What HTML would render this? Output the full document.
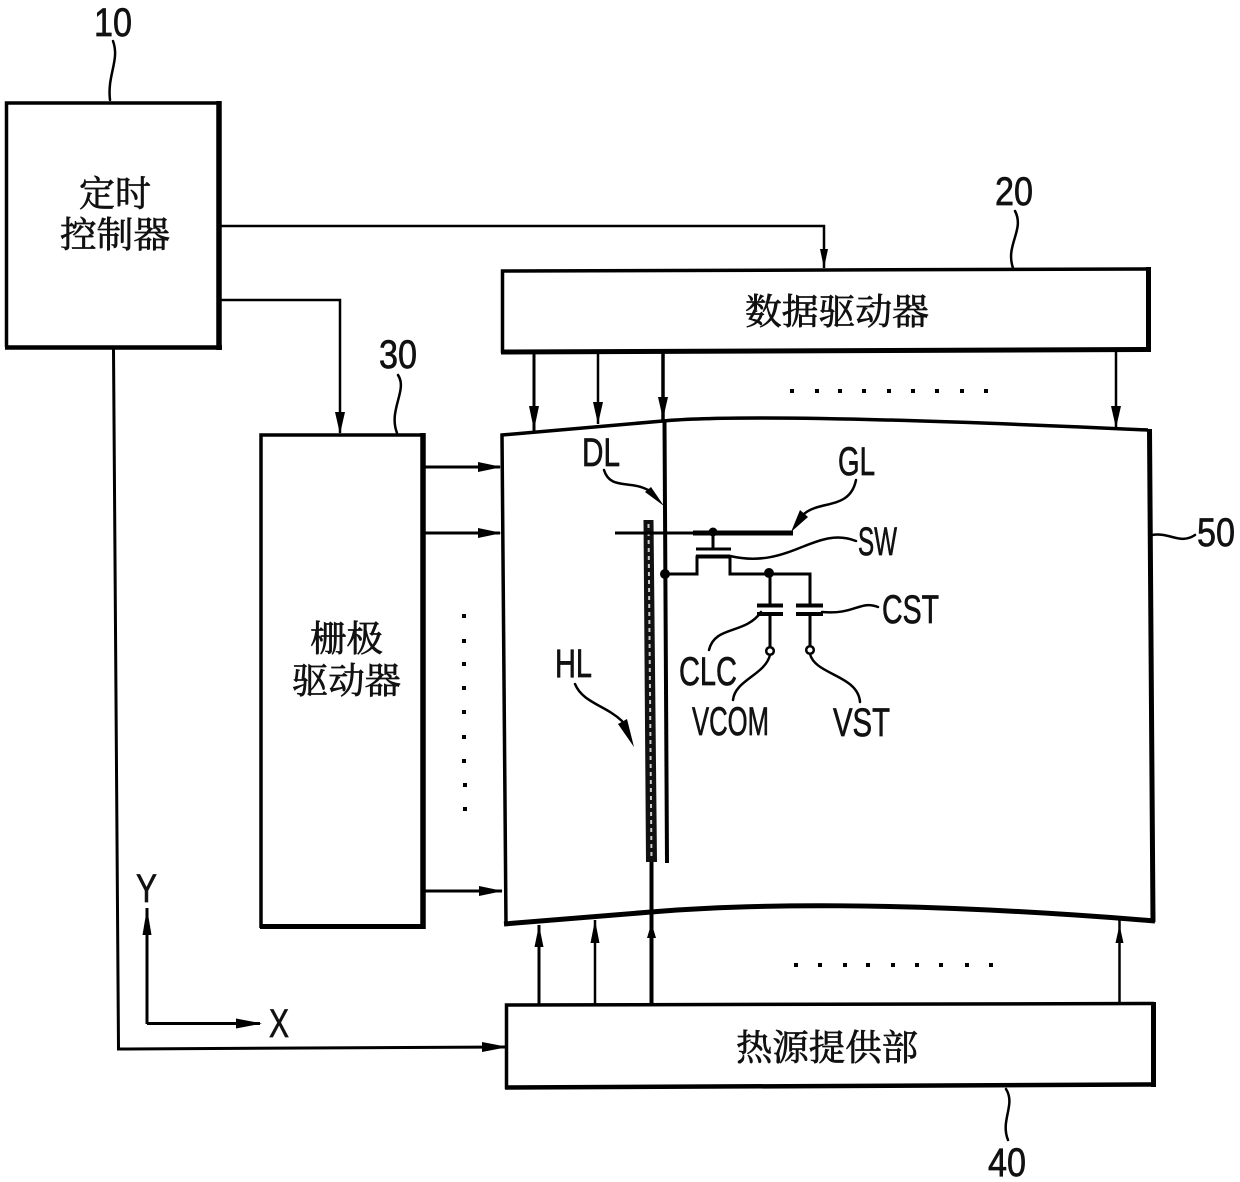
<!DOCTYPE html>
<html><head><meta charset="utf-8"><style>
html,body{margin:0;padding:0;background:#fff;width:1240px;height:1182px;overflow:hidden}
svg{display:block}
.l{font-family:"Liberation Sans",sans-serif;font-size:40px;fill:#111;stroke:#111;stroke-width:.7}
.c{font-family:"Noto Serif CJK SC","Noto Sans CJK SC",serif;font-size:36px;fill:#111;stroke:#111;stroke-width:.7}
.w{fill:none;stroke:#000;stroke-width:2.5;stroke-linecap:round}
</style></head><body>
<svg width="1240" height="1182" viewBox="0 0 1240 1182" xmlns="http://www.w3.org/2000/svg">
<rect width="1240" height="1182" fill="#fff"/>

<!-- boxes -->
<g fill="none" stroke="#000">
<path d="M6.500 347V103H219" stroke-width="3.500"/>
<path d="M219 101V350" stroke-width="5.500"/>
<path d="M5 347.500H222" stroke-width="4.500"/>
<path d="M502.500 353V271L1148 269" stroke-width="3.500"/>
<path d="M1148.500 267V352" stroke-width="5"/>
<path d="M501 352L1151 349.500" stroke-width="5"/>
<path d="M261 928V435H424" stroke-width="3.500"/>
<path d="M423 433V929" stroke-width="5.500"/>
<path d="M260 926.500H425" stroke-width="5"/>
<path d="M506.500 1089V1005L1154 1003.500" stroke-width="3.500"/>
<path d="M1153.500 1002V1087" stroke-width="5"/>
<path d="M505 1087.500L1155 1084.500" stroke-width="4.500"/>
<!-- panel -->
<path d="M506 925L502 435L663 421Q760 412 1148 430" stroke-width="3.500"/>
<path d="M1149.500 429L1153 922" stroke-width="5"/>
<path d="M504 924L651 912C740 904.500 900 900 1155 921" stroke-width="5"/>
</g>

<!-- connectors -->
<g fill="none" stroke="#000">
<path d="M221 226H824V268" stroke-width="2.500"/>
<path d="M221 300H340V433" stroke-width="2.500"/>
<path d="M113.500 349L118.500 1049L505 1047" stroke-width="3"/>
<path d="M534 353V431" stroke-width="3"/>
<path d="M598 353V424" stroke-width="2.500"/>
<path d="M1116 352V428" stroke-width="2.500"/>
<path d="M663 353V420" stroke-width="3.500"/>
<path d="M425 467H500M425 533H500M425 891H502" stroke-width="3"/>
<path d="M539 1004V925" stroke-width="3"/>
<path d="M595 1004V920" stroke-width="2.500"/>
<path d="M651.500 1004V862" stroke-width="4"/>
<path d="M1119.500 1003V918" stroke-width="2.500"/>
<path d="M147 1024V908M147 1023.500H260" stroke-width="3"/>
</g>

<!-- arrowheads -->
<g fill="#000">
<path d="M824 268l-4-19h8z"/>
<path d="M340 434l-5-22h10z"/>
<path d="M534 430l-5-24h10z"/>
<path d="M598 424l-5-22h10z"/>
<path d="M663 419l-5-22h10z"/>
<path d="M1116 428l-5-22h10z"/>
<path d="M502 467l-24-5v10z"/>
<path d="M502 533l-24-5v10z"/>
<path d="M503 891l-24-5v10z"/>
<path d="M508 1047l-26-5v10z"/>
<path d="M539 925l-4.500 22h9z"/>
<path d="M595 920l-4.500 23h9z"/>
<path d="M651.500 923l-4.500 15h9z"/>
<path d="M1119.500 925l-4 18h8z"/>
<path d="M147 908l-4.500 27h9z"/>
<path d="M262 1023.500l-26-5v10z"/>
</g>

<!-- heat line + data line -->
<polygon points="643.500,520 653.500,520 657,862 646,862" fill="#111"/>
<path d="M648.500 524L651.500 860" stroke="#ccc" stroke-width="2" stroke-dasharray="4 4" fill="none"/>
<path d="M664.500 421L667 863" fill="none" stroke="#000" stroke-width="4"/>

<!-- gate line and TFT -->
<path d="M615 533H700" stroke="#000" stroke-width="3" fill="none"/>
<path d="M693 533H793" stroke="#000" stroke-width="5" fill="none"/>
<circle cx="713" cy="532" r="4.500" fill="#000"/>
<circle cx="665" cy="574" r="5" fill="#000"/>
<circle cx="769" cy="573" r="5" fill="#000"/>
<g fill="none" stroke="#000">
<path d="M713 533V549M696 549H731M696 556H730" stroke-width="3"/>
<path d="M665 574H697V557H730V574H810V606M770 574V606" stroke-width="3"/>
<path d="M757 605.500H783M757 614H783M796 605.500H823M796 614H823" stroke-width="4"/>
<path d="M770 614V648M810 614V648" stroke-width="3"/>
</g>
<circle cx="770" cy="651" r="3.800" fill="#fff" stroke="#000" stroke-width="2.500"/>
<circle cx="810" cy="650" r="3.800" fill="#fff" stroke="#000" stroke-width="2.500"/>

<!-- leaders -->
<g class="w">
<path d="M113 41C120 60 107 75 110 100"/>
<path d="M1015 211C1025 230 1005 245 1013 268"/>
<path d="M398 375C408 390 388 410 397 433"/>
<path d="M1152 535C1170 532 1180 545 1195 535"/>
<path d="M1006 1089C1016 1105 1000 1120 1008 1140"/>
<path d="M604 470C610 490 630 480 648 490"/>
<path d="M856 480C850 510 820 500 804 514"/>
<path d="M856 541C815 525 790 570 730 556"/>
<path d="M878 607C860 600 855 615 822 612"/>
<path d="M709 650C715 625 745 635 761 612"/>
<path d="M733 700C735 680 765 675 770 655"/>
<path d="M860 702C858 675 815 675 810 654"/>
<path d="M575 684C583 703 605 705 622 721"/>
</g>
<g fill="#000">
<path d="M664 506L645 492L651 487z"/>
<path d="M791 532L800 510L808 517z"/>
<path d="M634 747L618 724L627 719z"/>
</g>

<!-- dots -->
<g fill="#000">
<rect x="790" y="389" width="4" height="4"/><rect x="815" y="389" width="4" height="4"/><rect x="838" y="389" width="4" height="4"/><rect x="862" y="389" width="4" height="4"/><rect x="887" y="389" width="4" height="4"/><rect x="911" y="389" width="4" height="4"/><rect x="935" y="389" width="4" height="4"/><rect x="960" y="389" width="4" height="4"/><rect x="984" y="389" width="4" height="4"/>
<rect x="794" y="963" width="4" height="4"/><rect x="818" y="963" width="4" height="4"/><rect x="843" y="963" width="4" height="4"/><rect x="866" y="963" width="4" height="4"/><rect x="891" y="963" width="4" height="4"/><rect x="915" y="963" width="4" height="4"/><rect x="939" y="963" width="4" height="4"/><rect x="965" y="963" width="4" height="4"/><rect x="989" y="963" width="4" height="4"/>
<rect x="462" y="614" width="4" height="4"/><rect x="462" y="639" width="4" height="4"/><rect x="462" y="662" width="4" height="4"/><rect x="462" y="686" width="4" height="4"/><rect x="462" y="710" width="4" height="4"/><rect x="462" y="735" width="4" height="4"/><rect x="462" y="759" width="4" height="4"/><rect x="463" y="783" width="4" height="4"/><rect x="463" y="807" width="4" height="4"/>
</g>

<!-- CJK labels -->
<text class="c" x="79" y="206" textLength="72" lengthAdjust="spacingAndGlyphs">定时</text>
<text class="c" x="60" y="247" textLength="110" lengthAdjust="spacingAndGlyphs">控制器</text>
<text class="c" x="745" y="324" textLength="184" lengthAdjust="spacingAndGlyphs">数据驱动器</text>
<text class="c" x="310" y="651" textLength="73" lengthAdjust="spacingAndGlyphs">栅极</text>
<text class="c" x="292" y="693" textLength="109" lengthAdjust="spacingAndGlyphs">驱动器</text>
<text class="c" x="736" y="1060" textLength="182" lengthAdjust="spacingAndGlyphs">热源提供部</text>

<!-- Latin labels -->
<text class="l" x="94" y="36" textLength="38" lengthAdjust="spacingAndGlyphs">10</text>
<text class="l" x="995" y="205" textLength="38" lengthAdjust="spacingAndGlyphs">20</text>
<text class="l" x="379" y="368" textLength="38" lengthAdjust="spacingAndGlyphs">30</text>
<text class="l" x="988" y="1176" textLength="38" lengthAdjust="spacingAndGlyphs">40</text>
<text class="l" x="1197" y="546" textLength="38" lengthAdjust="spacingAndGlyphs">50</text>
<text class="l" x="582" y="466" textLength="38" lengthAdjust="spacingAndGlyphs">DL</text>
<text class="l" x="838" y="475" textLength="37" lengthAdjust="spacingAndGlyphs">GL</text>
<text class="l" x="858" y="555" textLength="39" lengthAdjust="spacingAndGlyphs">SW</text>
<text class="l" x="882" y="623" textLength="57" lengthAdjust="spacingAndGlyphs">CST</text>
<text class="l" x="679" y="685" textLength="58" lengthAdjust="spacingAndGlyphs">CLC</text>
<text class="l" x="692" y="735" textLength="77" lengthAdjust="spacingAndGlyphs">VCOM</text>
<text class="l" x="833" y="736" textLength="57" lengthAdjust="spacingAndGlyphs">VST</text>
<text class="l" x="555" y="677" textLength="37" lengthAdjust="spacingAndGlyphs">HL</text>
<text class="l" x="136" y="902" textLength="21" lengthAdjust="spacingAndGlyphs">Y</text>
<text class="l" x="269" y="1037" textLength="20" lengthAdjust="spacingAndGlyphs">X</text>
</svg>
</body></html>
